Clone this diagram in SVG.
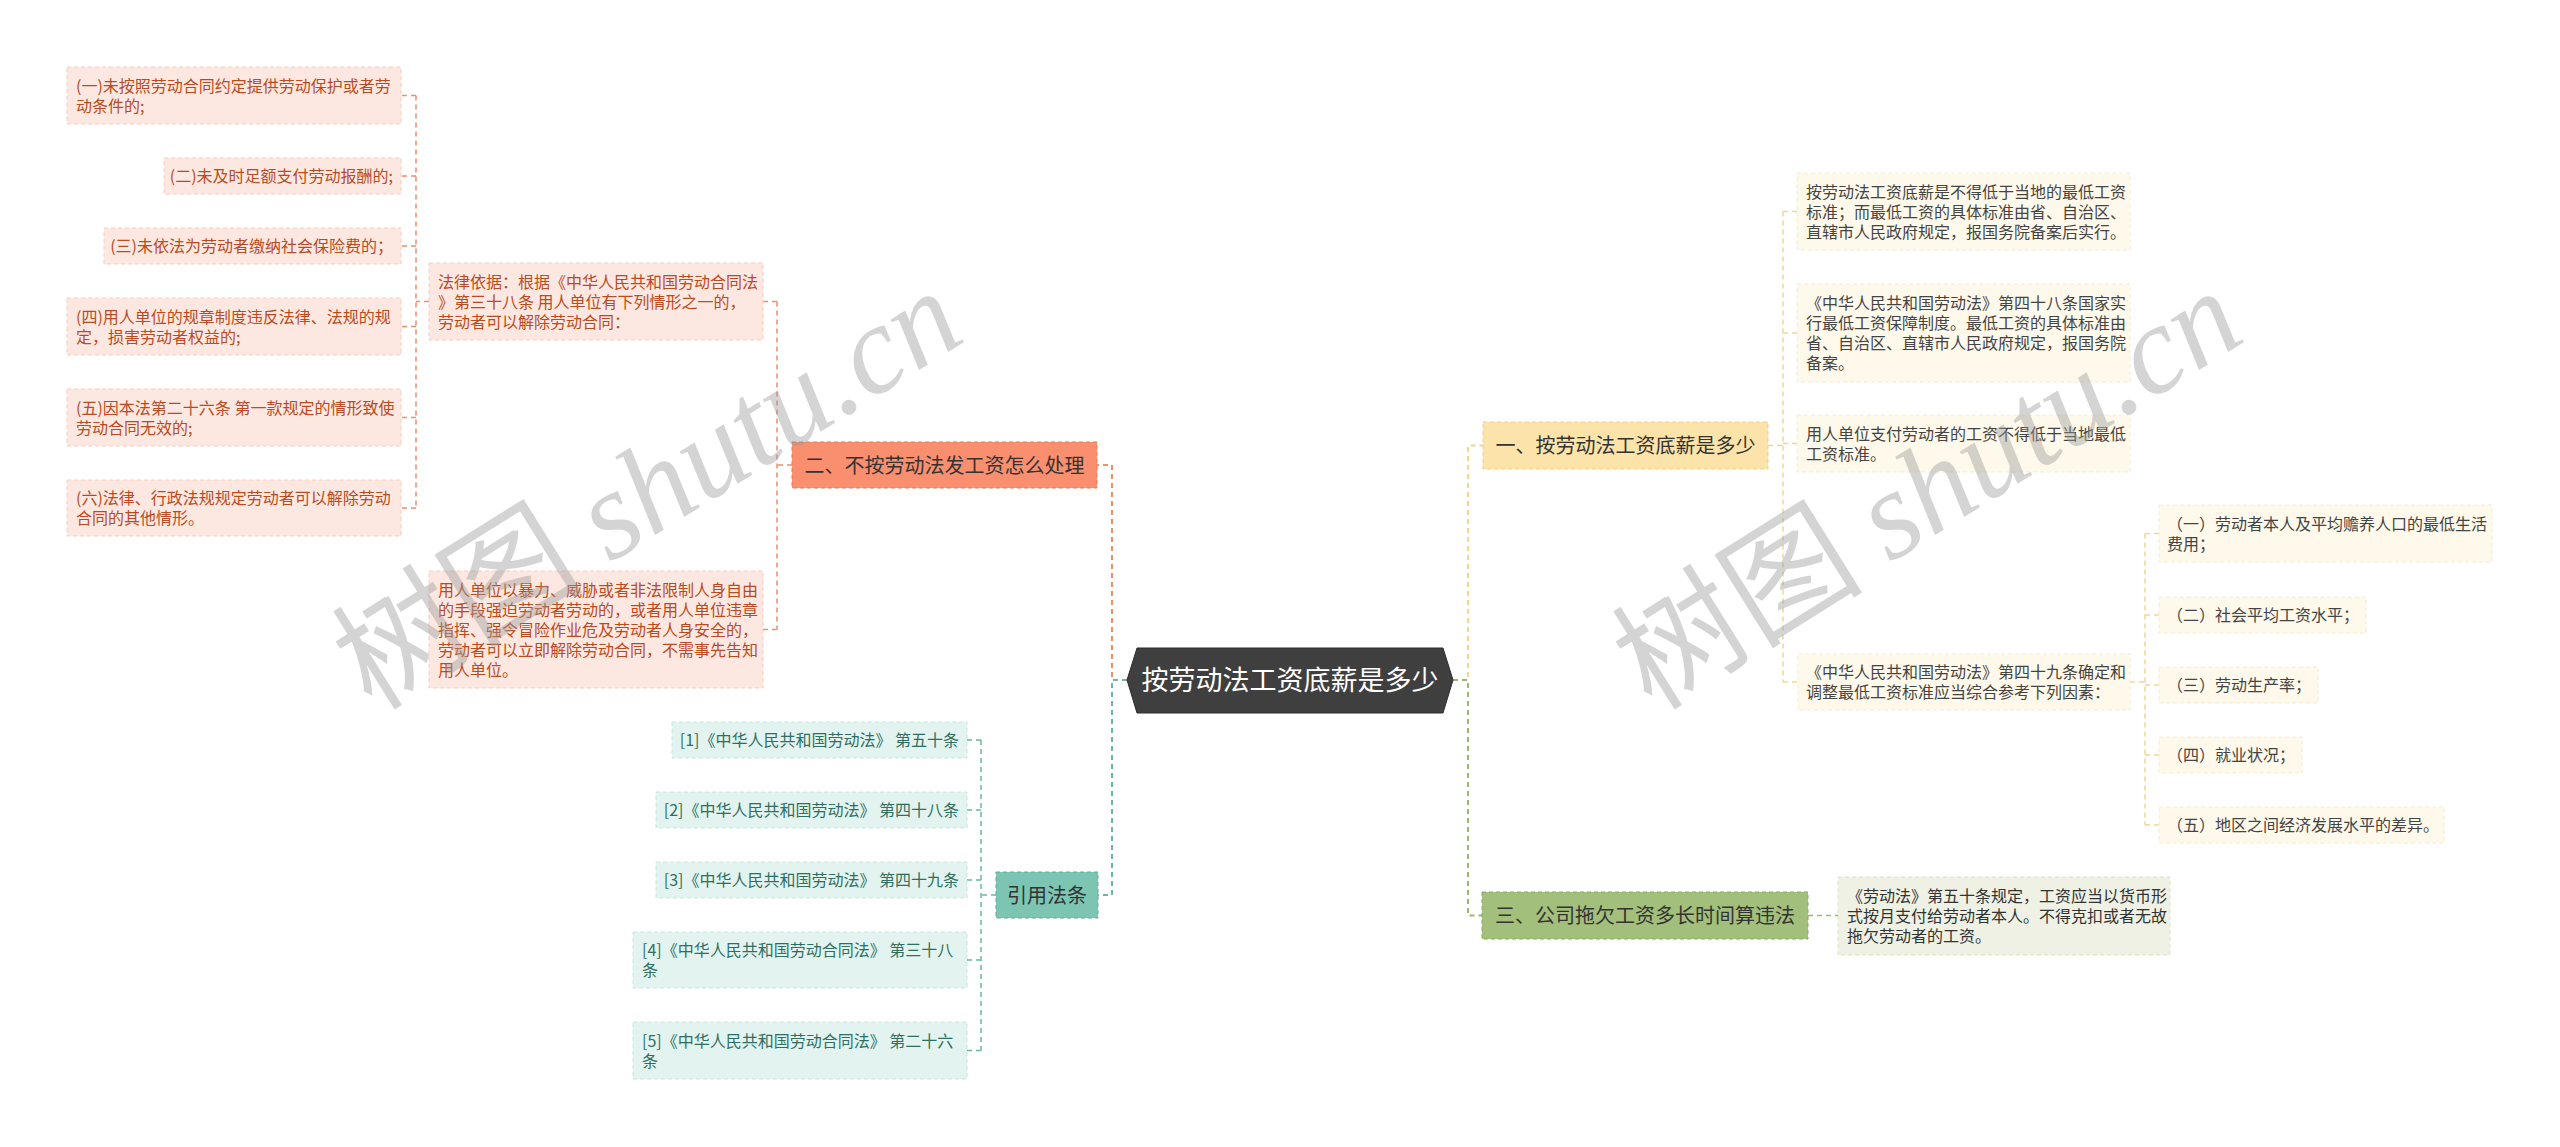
<svg xmlns="http://www.w3.org/2000/svg" width="2560" height="1147" viewBox="0 0 2560 1147">
<style>
text{font-family:"Noto Sans CJK SC","Noto Sans",sans-serif;}
.t16{font-size:16px;}
.t20{font-size:20px;fill:#333;}
.or{fill:#FDE8E1;stroke:#F6CDBE;stroke-width:1;stroke-dasharray:4 3;}
.ort{fill:#B94B22;}
.te{fill:#E3F4F0;stroke:#C6E6DE;stroke-width:1;stroke-dasharray:4 3;}
.tet{fill:#2F6F62;}
.ye{fill:#FEF9EA;stroke:#F4ECD2;stroke-width:1;stroke-dasharray:4 3;}
.yet{fill:#444;}
.gr{fill:#EEF1E3;stroke:#DCE3C8;stroke-width:1;stroke-dasharray:4 3;}
.grt{fill:#333;}
.c{fill:none;stroke-dasharray:5 4;}
.co{stroke:#E8916F;}
.ct{stroke:#6DB5A5;}
.cy{stroke:#F2D591;}
.cg{stroke:#9BB772;}
.wm{fill:#9a9a9a;opacity:0.42;font-size:126px;}
</style>

<g id="connectors">
  <path class="c co" stroke-width="2" d="M1127,680 H1112 V465 H1097"/>
  <path class="c ct" stroke-width="2" d="M1127,680 H1112 V895 H1098"/>
  <path class="c cy" stroke-width="2" d="M1453,680 H1468 V445.5 H1483"/>
  <path class="c cg" stroke-width="2" d="M1453,680 H1468 V915.5 H1482"/>
  <path class="c co" stroke-width="1.5" d="M792,465 H777 M777,301.5 V629.5 M777,301.5 H763 M777,629.5 H763"/>
  <path class="c co" stroke-width="1.5" d="M429,301.5 H416 M416,95.5 V508 M416,95.5 H401 M416,176 H401 M416,246 H401 M416,326.5 H401 M416,417.5 H401 M416,508 H401"/>
  <path class="c ct" stroke-width="1.5" d="M996,895 H981 M981,740 V1050.5 M981,740 H967 M981,810 H967 M981,880 H967 M981,960 H967 M981,1050.5 H967"/>
  <path class="c cy" stroke-width="1.5" d="M1768,445.5 H1783 M1783,211.5 V682 M1783,211.5 H1797 M1783,333 H1797 M1783,443.5 H1797 M1783,682 H1798"/>
  <path class="c cy" stroke-width="1.5" d="M2130,682 H2145 M2145,533.5 V825 M2145,533.5 H2159 M2145,615 H2159 M2145,685 H2159 M2145,755 H2159 M2145,825 H2159"/>
  <path class="c cg" stroke-width="1.5" d="M1808,915.5 H1838"/>
</g>

<g id="hub">
  <polygon points="1127,680 1137,648 1443,648 1453,680 1443,713 1137,713" fill="#3F3F3F" stroke="#2E2E2E" stroke-width="1"/>
  <text x="1290" y="690" text-anchor="middle" font-size="27" fill="#FFFFFF">按劳动法工资底薪是多少</text>
</g>

<g id="n-er">
  <rect x="792" y="442" width="305" height="46" fill="#F98F6F" stroke="#E67A58" stroke-width="1" stroke-dasharray="4 3"/>
  <text class="t20" x="944.5" y="472.5" text-anchor="middle">二、不按劳动法发工资怎么处理</text>
</g>
<g id="n-falv">
  <rect class="or" x="429" y="263" width="334" height="77"/>
  <text class="t16 ort"><tspan x="438" y="287.5">法律依据：根据《中华人民共和国劳动合同法</tspan><tspan x="438" y="307.5">》第三十八条 用人单位有下列情形之一的，</tspan><tspan x="438" y="327.5">劳动者可以解除劳动合同：</tspan></text>
</g>
<g id="n-l1">
  <rect class="or" x="67" y="67" width="334" height="57"/>
  <text class="t16 ort"><tspan x="76" y="91.5">(一)未按照劳动合同约定提供劳动保护或者劳</tspan><tspan x="76" y="111.5">动条件的;</tspan></text>
</g>
<g id="n-l2">
  <rect class="or" x="164" y="158" width="237" height="36"/>
  <text class="t16 ort" x="393" y="182" text-anchor="end">(二)未及时足额支付劳动报酬的;</text>
</g>
<g id="n-l3">
  <rect class="or" x="104" y="228" width="297" height="36"/>
  <text class="t16 ort" x="393" y="252" text-anchor="end">(三)未依法为劳动者缴纳社会保险费的；</text>
</g>
<g id="n-l4">
  <rect class="or" x="67" y="298" width="334" height="57"/>
  <text class="t16 ort"><tspan x="76" y="322.5">(四)用人单位的规章制度违反法律、法规的规</tspan><tspan x="76" y="342.5">定，损害劳动者权益的;</tspan></text>
</g>
<g id="n-l5">
  <rect class="or" x="67" y="389" width="334" height="57"/>
  <text class="t16 ort"><tspan x="76" y="413.5">(五)因本法第二十六条 第一款规定的情形致使</tspan><tspan x="76" y="433.5">劳动合同无效的;</tspan></text>
</g>
<g id="n-l6">
  <rect class="or" x="67" y="480" width="334" height="56"/>
  <text class="t16 ort"><tspan x="76" y="504">(六)法律、行政法规规定劳动者可以解除劳动</tspan><tspan x="76" y="524">合同的其他情形。</tspan></text>
</g>
<g id="n-yongren">
  <rect class="or" x="429" y="571" width="334" height="117"/>
  <text class="t16 ort"><tspan x="438" y="595.5">用人单位以暴力、威胁或者非法限制人身自由</tspan><tspan x="438" y="615.5">的手段强迫劳动者劳动的，或者用人单位违章</tspan><tspan x="438" y="635.5">指挥、强令冒险作业危及劳动者人身安全的，</tspan><tspan x="438" y="655.5">劳动者可以立即解除劳动合同，不需事先告知</tspan><tspan x="438" y="675.5">用人单位。</tspan></text>
</g>

<g id="n-yinyong">
  <rect x="996" y="872" width="102" height="46" fill="#7CC5B3" stroke="#5FAE9B" stroke-width="1" stroke-dasharray="4 3"/>
  <text class="t20" x="1047" y="902.5" text-anchor="middle">引用法条</text>
</g>
<g id="n-c1">
  <rect class="te" x="672" y="722" width="295" height="36"/>
  <text class="t16 tet" x="959" y="746" text-anchor="end">[1]《中华人民共和国劳动法》 第五十条</text>
</g>
<g id="n-c2">
  <rect class="te" x="656" y="792" width="311" height="36"/>
  <text class="t16 tet" x="959" y="816" text-anchor="end">[2]《中华人民共和国劳动法》 第四十八条</text>
</g>
<g id="n-c3">
  <rect class="te" x="656" y="862" width="311" height="36"/>
  <text class="t16 tet" x="959" y="886" text-anchor="end">[3]《中华人民共和国劳动法》 第四十九条</text>
</g>
<g id="n-c4">
  <rect class="te" x="633" y="932" width="334" height="56"/>
  <text class="t16 tet"><tspan x="642" y="956">[4]《中华人民共和国劳动合同法》 第三十八</tspan><tspan x="642" y="976">条</tspan></text>
</g>
<g id="n-c5">
  <rect class="te" x="633" y="1022" width="334" height="57"/>
  <text class="t16 tet"><tspan x="642" y="1046.5">[5]《中华人民共和国劳动合同法》 第二十六</tspan><tspan x="642" y="1066.5">条</tspan></text>
</g>

<g id="n-yi">
  <rect x="1483" y="422" width="285" height="47" fill="#FCE3A9" stroke="#F2CF85" stroke-width="1" stroke-dasharray="4 3"/>
  <text class="t20" x="1625.5" y="453" text-anchor="middle">一、按劳动法工资底薪是多少</text>
</g>
<g id="n-ya">
  <rect class="ye" x="1797" y="173" width="333" height="77"/>
  <text class="t16 yet"><tspan x="1806" y="197.5">按劳动法工资底薪是不得低于当地的最低工资</tspan><tspan x="1806" y="217.5">标准；而最低工资的具体标准由省、自治区、</tspan><tspan x="1806" y="237.5">直辖市人民政府规定，报国务院备案后实行。</tspan></text>
</g>
<g id="n-yb">
  <rect class="ye" x="1797" y="284" width="333" height="98"/>
  <text class="t16 yet"><tspan x="1806" y="309">《中华人民共和国劳动法》第四十八条国家实</tspan><tspan x="1806" y="329">行最低工资保障制度。最低工资的具体标准由</tspan><tspan x="1806" y="349">省、自治区、直辖市人民政府规定，报国务院</tspan><tspan x="1806" y="369">备案。</tspan></text>
</g>
<g id="n-yc">
  <rect class="ye" x="1797" y="415" width="333" height="57"/>
  <text class="t16 yet"><tspan x="1806" y="439.5">用人单位支付劳动者的工资不得低于当地最低</tspan><tspan x="1806" y="459.5">工资标准。</tspan></text>
</g>
<g id="n-yd">
  <rect class="ye" x="1798" y="654" width="332" height="56"/>
  <text class="t16 yet"><tspan x="1806" y="678">《中华人民共和国劳动法》第四十九条确定和</tspan><tspan x="1806" y="698">调整最低工资标准应当综合参考下列因素：</tspan></text>
</g>
<g id="n-e1">
  <rect class="ye" x="2159" y="505" width="333" height="57"/>
  <text class="t16 yet"><tspan x="2167" y="529.5">（一）劳动者本人及平均赡养人口的最低生活</tspan><tspan x="2167" y="549.5">费用；</tspan></text>
</g>
<g id="n-e2">
  <rect class="ye" x="2159" y="597" width="207" height="36"/>
  <text class="t16 yet" x="2167" y="621">（二）社会平均工资水平；</text>
</g>
<g id="n-e3">
  <rect class="ye" x="2159" y="667" width="159" height="36"/>
  <text class="t16 yet" x="2167" y="691">（三）劳动生产率；</text>
</g>
<g id="n-e4">
  <rect class="ye" x="2159" y="737" width="143" height="36"/>
  <text class="t16 yet" x="2167" y="761">（四）就业状况；</text>
</g>
<g id="n-e5">
  <rect class="ye" x="2159" y="807" width="285" height="36"/>
  <text class="t16 yet" x="2167" y="831">（五）地区之间经济发展水平的差异。</text>
</g>

<g id="n-san">
  <rect x="1482" y="892" width="326" height="47" fill="#A3BF7C" stroke="#8AAA62" stroke-width="1" stroke-dasharray="4 3"/>
  <text class="t20" x="1645" y="923" text-anchor="middle">三、公司拖欠工资多长时间算违法</text>
</g>
<g id="n-sf">
  <rect class="gr" x="1838" y="877" width="332" height="78"/>
  <text class="t16 grt"><tspan x="1847" y="902">《劳动法》第五十条规定，工资应当以货币形</tspan><tspan x="1847" y="922">式按月支付给劳动者本人。不得克扣或者无故</tspan><tspan x="1847" y="942">拖欠劳动者的工资。</tspan></text>
</g>

<g id="watermarks">
  <text class="wm" transform="translate(372,712) rotate(-32)">树图 <tspan font-family="Liberation Serif,serif" font-style="italic">shutu.cn</tspan></text>
  <text class="wm" transform="translate(1652,712) rotate(-32)">树图 <tspan font-family="Liberation Serif,serif" font-style="italic">shutu.cn</tspan></text>
</g>
</svg>
